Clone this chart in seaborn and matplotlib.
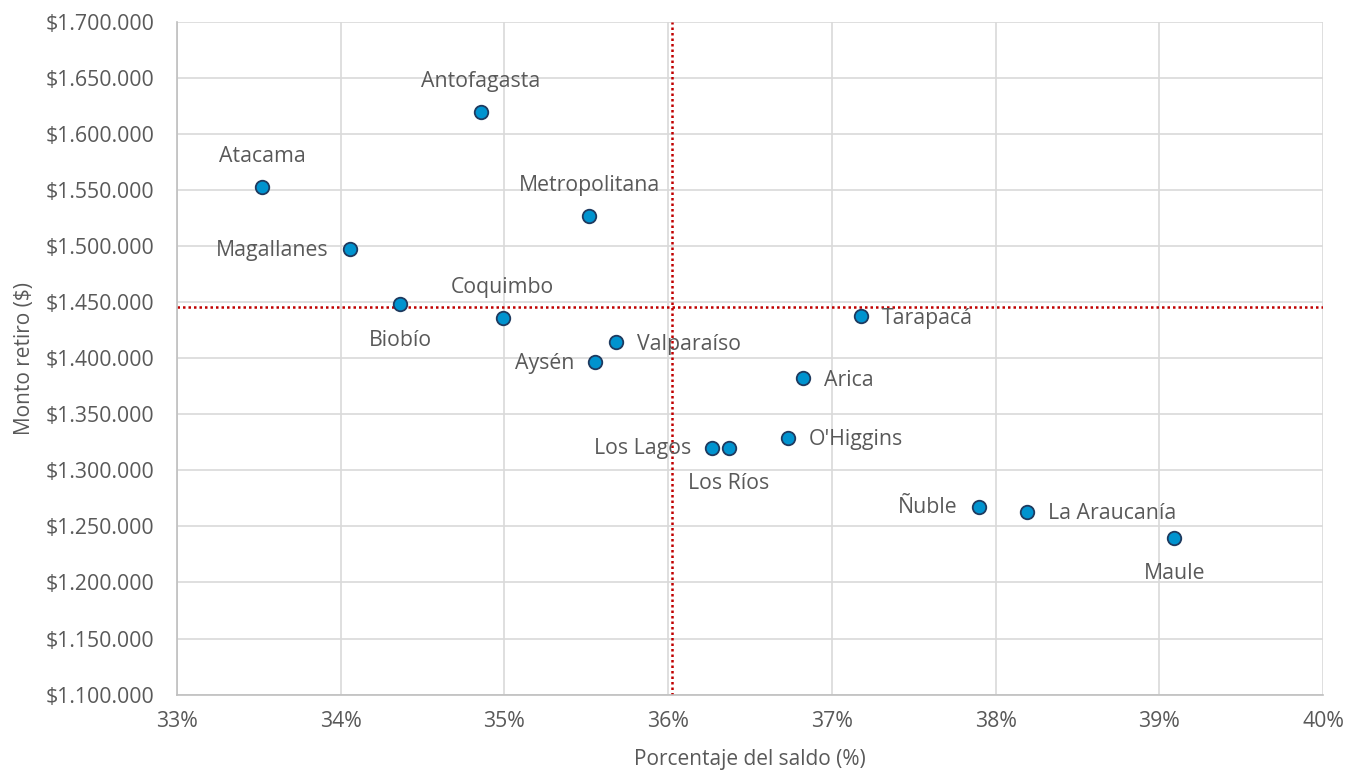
import pandas as pd
import seaborn as sns
import matplotlib.pyplot as plt
from matplotlib.ticker import FuncFormatter, MultipleLocator

regiones = ['Atacama', 'Antofagasta', 'Metropolitana', 'Magallanes', 'Biobío',
            'Coquimbo', 'Valparaíso', 'Aysén', 'Tarapacá', 'Arica', "O'Higgins",
            'Los Lagos', 'Los Ríos', 'Ñuble', 'La Araucanía', 'Maule']
porcentaje = [33.52, 34.855, 35.52, 34.055, 34.365, 34.99, 35.685, 35.554, 37.18,
              36.827, 36.73, 36.269, 36.371, 37.899, 38.19, 39.091]
monto = [1552500, 1619300, 1526400, 1497000, 1448000, 1435500, 1414100, 1396300,
         1437500, 1382000, 1329200, 1320100, 1320100, 1267500, 1263000, 1240000]
# position of each label relative to its point
posicion = ['above', 'above', 'above', 'left', 'below', 'above', 'right', 'left',
            'right', 'right', 'right', 'left', 'below', 'left', 'right', 'below']
prom_x = 36.024
prom_y = 1445800

df = pd.DataFrame({'region': regiones, 'pct': porcentaje, 'monto': monto, 'pos': posicion})

sns.set_style('white')
plt.rcParams['font.family'] = ['Open Sans', 'DejaVu Sans']
gris = '#595959'

fig = plt.figure(figsize=(13.5, 7.77), dpi=100)
ax = fig.add_axes([0.131, 0.106, 0.849, 0.866])

ax.axvline(prom_x, color='#C00000', ls=(0, (1, 1.2)), lw=1.8, zorder=2)
ax.axhline(prom_y, color='#C00000', ls=(0, (1, 1.2)), lw=1.8, zorder=2)

sns.scatterplot(data=df, x='pct', y='monto', ax=ax, s=95, color='#0093CF',
                edgecolor='#1F3A5F', linewidth=1.3, zorder=3)

offsets = {'above': ((0, 31), 'center', 'center'),
           'below': ((0, -36), 'center', 'center'),
           'left': ((-21, -1), 'right', 'center'),
           'right': ((21, -2), 'left', 'center')}
for _, r in df.iterrows():
    off, ha, va = offsets[r['pos']]
    ax.annotate(r['region'], (r['pct'], r['monto']), xytext=off,
                textcoords='offset pixels', ha=ha, va=va, fontsize=15.3, color=gris)

ax.set_xlim(33, 40)
ax.set_ylim(1100000, 1700000)
ax.xaxis.set_major_locator(MultipleLocator(1))
ax.yaxis.set_major_locator(MultipleLocator(50000))
ax.xaxis.set_major_formatter(FuncFormatter(lambda v, p: f'{v:.0f}%'))
ax.yaxis.set_major_formatter(FuncFormatter(lambda v, p: '$' + f'{v:,.0f}'.replace(',', '.')))
ax.grid(True, color='#D9D9D9', lw=1.2, zorder=0)
ax.set_axisbelow(True)
for s in ['top', 'right']:
    ax.spines[s].set_visible(False)
for s in ['left', 'bottom']:
    ax.spines[s].set_color('#BFBFBF')
    ax.spines[s].set_linewidth(1.2)
ax.tick_params(axis='both', length=0, labelsize=15.3, labelcolor=gris)
ax.tick_params(axis='y', pad=16)
ax.tick_params(axis='x', pad=12)
ax.set_xlabel('Porcentaje del saldo (%)', fontsize=15, color=gris, labelpad=12)
ax.set_ylabel('Monto retiro ($)', fontsize=15, color=gris, labelpad=8)

fig.savefig('out.png', dpi=100)
